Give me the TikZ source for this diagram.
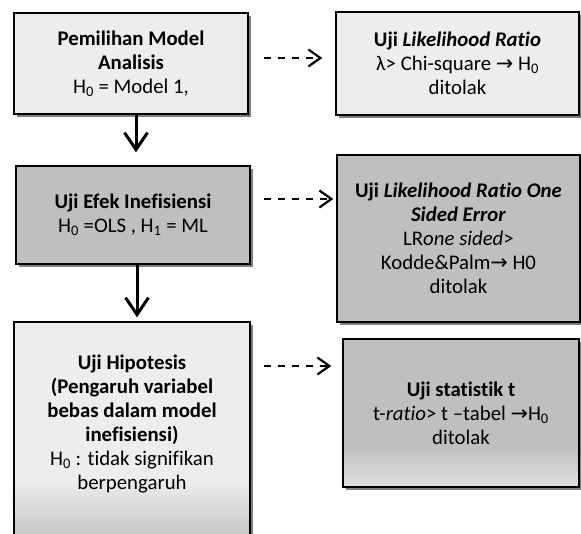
\documentclass[tikz,border=0pt]{standalone}
\usepackage{fontspec}
\setmainfont[Ligatures=NoCommon]{Carlito}
\newfontfamily\symfont{DejaVu Sans}
\usetikzlibrary{arrows.meta,shadows}
\newcommand{\arr}{{\symfont\char"2192}}
\newcommand{\Hs}[1]{H\textsubscript{#1}}
\pgfdeclareverticalshading{hipshade}{100bp}{color(0bp)=(black!28); color(25bp)=(black!28); color(28bp)=(black!21); color(40bp)=(black!7); color(100bp)=(black!7)}
\pgfdeclareverticalshading{ujishade}{100bp}{color(0bp)=(black!12); color(25bp)=(black!12); color(38bp)=(black!25); color(100bp)=(black!25)}

\begin{document}
\begin{tikzpicture}
  [x=1pt,y=-1pt,
   box/.style={draw,line width=1.4pt,align=center,inner sep=2pt,
     font=\fontsize{20.8}{24}\selectfont,
     drop shadow={shadow xshift=3pt,shadow yshift=-3pt,fill=black!50,opacity=1}},
   light/.style={box,fill=black!7},
   dark/.style={box,fill=black!25},
   down/.style={line width=3pt,-{Straight Barb[length=17pt,width=23pt,line width=3pt]}},
   dasharr/.style={line width=1.8pt,dash pattern=on 7pt off 7pt,
     -{Straight Barb[length=12pt,width=17pt,line width=2.2pt]}}]
  \useasboundingbox (0,0) rectangle (581,534);

  \node[light,minimum width=234pt,minimum height=101pt] (pil) at (131,63.5)
    {\textbf{Pemilihan Model}\\ \textbf{Analisis}\\ \Hs{0} = Model 1,};
  \node[dark,minimum width=234pt,minimum height=98pt] (efek) at (133,215)
    {\textbf{Uji Efek Inefisiensi}\\ \Hs{0} =OLS , \Hs{1} = ML};
  \node[box,shading=hipshade,minimum width=236pt,minimum height=224pt] (hip) at (132,434)
    {\raisebox{10pt}[\height][\depth]{\parbox{230pt}{\centering
      \textbf{Uji Hipotesis}\\ \textbf{(Pengaruh variabel}\\ \textbf{bebas dalam model}\\
      \textbf{inefisiensi)}\\ \Hs{0} : tidak signifikan\\ berpengaruh}}};

  \node[light,minimum width=243pt,minimum height=103pt] (lr) at (457.5,63.5)
    {\textbf{Uji \textit{Likelihood Ratio}}\\ λ> Chi-square \arr{} \Hs{0}\\ ditolak};
  \node[dark,minimum width=243pt,minimum height=167pt] (lros) at (458.5,238.5)
    {\textbf{Uji \textit{Likelihood Ratio One}}\\ \textbf{\textit{Sided Error}}\\
     LR\textit{one sided}>\\ Kodde\&Palm\arr{} H0\\ ditolak};
  \node[box,shading=ujishade,minimum width=236pt,minimum height=148pt] (ujit) at (461,413)
    {\textbf{Uji statistik t}\\ t-\textit{ratio}> t –tabel \arr{}\Hs{0}\\ ditolak};

  % alur utama
  \draw[down,shorten >=13pt] ([shift={(5,0)}]pil.south) -- ([shift={(3,0)}]efek.north);
  \draw[down,shorten >=4pt] ([shift={(4,0)}]efek.south) -- ([shift={(5,0)}]hip.north);

  % uji lanjutan
  \draw[dasharr] ([shift={(15,-5.5)}]pil.east) -- ([shift={(-13,-5.5)}]lr.west);
  \draw[dasharr] ([shift={(13,-16)}]efek.east) -- ([shift={(-3,-39.5)}]lros.west);
  \draw[dasharr] ([shift={(13,-68)}]hip.east) -- ([shift={(-11,-47)}]ujit.west);
\end{tikzpicture}
\end{document}
